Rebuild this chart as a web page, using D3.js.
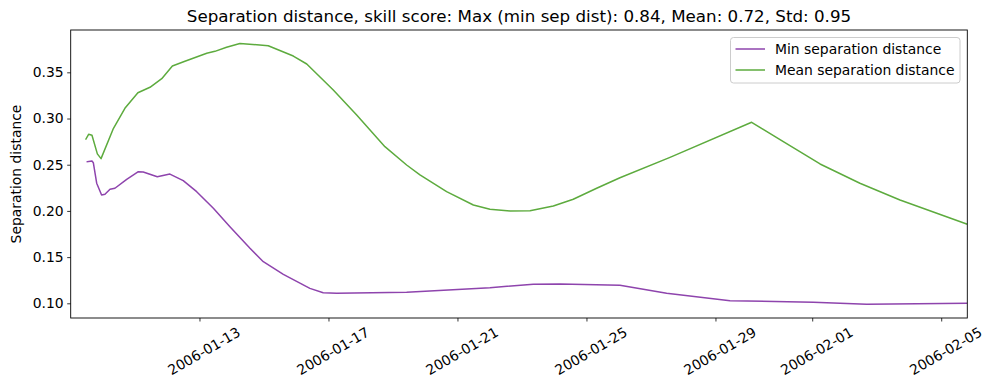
<!DOCTYPE html>
<html>
<head>
<meta charset="utf-8">
<script src="https://cdn.jsdelivr.net/npm/d3@7"></script>
<style>
  body { margin: 0; background: #fff; }
  svg { display: block; }
  text { font-family: "DejaVu Sans", sans-serif; fill: #000; }
</style>
</head>
<body>
<svg id="chart" width="989" height="390"></svg>
<script>
const titleText = "Separation distance, skill score: Max (min sep dist): 0.84, Mean: 0.72, Std: 0.95";
const yLabel = "Separation distance";
const seriesNames = ["Min separation distance", "Mean separation distance"];

const minDates = ["2006-01-09 12:30","2006-01-09 16:00","2006-01-09 17:00","2006-01-09 19:30","2006-01-09 23:10",
  "2006-01-10 01:40","2006-01-10 05:25","2006-01-10 09:05","2006-01-10 17:50","2006-01-11 02:30","2006-01-11 06:10",
  "2006-01-11 16:35","2006-01-12 02:00","2006-01-12 11:55","2006-01-12 21:55","2006-01-13 10:20","2006-01-13 22:40",
  "2006-01-14 13:35","2006-01-14 23:30","2006-01-15 14:25","2006-01-16 10:10","2006-01-16 20:05","2006-01-17 06:05",
  "2006-01-19 10:10","2006-01-22 00:10","2006-01-23 08:25","2006-01-24 04:25","2006-01-26 00:55","2006-01-27 11:40",
  "2006-01-29 10:50","2006-02-01 00:50","2006-02-02 16:30","2006-02-05 18:55"];
const minValues = [0.2532,0.2540,0.2522,0.2300,0.2172,
  0.2180,0.2234,0.2245,0.2342,0.2424,0.2421,
  0.2370,0.2399,0.2327,0.2208,0.2028,0.1829,
  0.1595,0.1450,0.1314,0.1162,0.1115,0.1108,
  0.1119,0.1169,0.1206,0.1209,0.1195,0.1108,
  0.1028,0.1011,0.0989,0.1000];

const meanDates = ["2006-01-09 11:30","2006-01-09 13:30","2006-01-09 16:00","2006-01-09 20:00","2006-01-09 22:45",
  "2006-01-10 08:00","2006-01-10 16:30","2006-01-11 02:10","2006-01-11 11:10","2006-01-11 19:55","2006-01-12 03:50",
  "2006-01-12 13:10","2006-01-13 05:25","2006-01-13 11:30","2006-01-13 20:10","2006-01-14 06:05","2006-01-15 03:10",
  "2006-01-15 21:50","2006-01-16 07:50","2006-01-17 03:35","2006-01-17 21:00","2006-01-18 18:00","2006-01-19 10:10",
  "2006-01-19 20:05","2006-01-20 15:55","2006-01-21 11:50","2006-01-22 00:10","2006-01-22 15:05","2006-01-23 06:00",
  "2006-01-23 23:20","2006-01-24 14:10","2006-01-25 07:35","2006-01-26 00:55","2006-01-27 14:10","2006-01-30 02:55",
  "2006-01-31 02:30","2006-02-01 05:50","2006-02-02 11:30","2006-02-03 17:20","2006-02-05 18:55"];
const meanValues = [0.2778,0.2829,0.2818,0.2617,0.2566,
  0.2894,0.3110,0.3279,0.3338,0.3431,0.3568,
  0.3619,0.3706,0.3727,0.3771,0.3812,0.3788,
  0.3676,0.3590,0.3308,0.3038,0.2695,0.2497,
  0.2389,0.2208,0.2064,0.2017,0.1999,0.2002,
  0.2053,0.2126,0.2245,0.2359,0.2580,0.2959,
  0.2749,0.2508,0.2299,0.2118,0.1858];

const xTickLabels = ["2006-01-13","2006-01-17","2006-01-21","2006-01-25","2006-01-29","2006-02-01","2006-02-05"];
const yTickLabels = ["0.10","0.15","0.20","0.25","0.30","0.35"];
const xDomain = ["2006-01-09 00:10","2006-02-05 19:25"];
const yDomain = [0.0841, 0.3958];

const colors = ["#8e44ad", "#5dab3e"];

const parse = d3.timeParse("%Y-%m-%d %H:%M");
const parseDay = d3.timeParse("%Y-%m-%d");

const svg = d3.select("#chart");
const L = 70.7, R = 967.3, T = 30, B = 318;

const x = d3.scaleTime().domain(xDomain.map(parse)).range([L, R]);
const y = d3.scaleLinear().domain(yDomain).range([B, T]);

const series = [
  { name: seriesNames[0], color: colors[0], data: minDates.map((d,i)=>({d: parse(d), v: minValues[i]})) },
  { name: seriesNames[1], color: colors[1], data: meanDates.map((d,i)=>({d: parse(d), v: meanValues[i]})) }
];

// clip
svg.append("defs").append("clipPath").attr("id","clip")
  .append("rect").attr("x", L).attr("y", T).attr("width", R-L).attr("height", B-T);

const line = d3.line().x(p => x(p.d)).y(p => y(p.v));
series.forEach(s => {
  svg.append("path").datum(s.data)
    .attr("clip-path","url(#clip)")
    .attr("fill","none").attr("stroke", s.color).attr("stroke-width", 1.5)
    .attr("stroke-linejoin","round").attr("stroke-linecap","square")
    .attr("d", line);
});

// y axis
const yAxis = d3.axisLeft(y).tickValues(yTickLabels.map(Number)).tickFormat(d3.format(".2f")).tickSize(3.5).tickPadding(3.5);
const gy = svg.append("g").attr("transform", `translate(${L},0)`).call(yAxis);
gy.select(".domain").remove();
gy.selectAll(".tick line").attr("stroke","#000").attr("stroke-width",0.8);
gy.selectAll(".tick text").attr("font-size","13.9px").attr("font-family","DejaVu Sans").attr("fill","#000");

// x axis
const xTicks = xTickLabels.map(parseDay);
const xAxis = d3.axisBottom(x).tickValues(xTicks).tickFormat(d3.timeFormat("%Y-%m-%d")).tickSize(3.5).tickPadding(3.5);
const gx = svg.append("g").attr("transform", `translate(0,${B})`).call(xAxis);
gx.select(".domain").remove();
gx.selectAll(".tick line").attr("stroke","#000").attr("stroke-width",0.8);
gx.selectAll(".tick text")
  .attr("font-size","13.9px").attr("font-family","DejaVu Sans").attr("fill","#000")
  .attr("text-anchor","middle").attr("dominant-baseline","central")
  .attr("y", null).attr("dy", null)
  .attr("transform", "translate(4,33) rotate(-30)");

// frame
svg.append("rect").attr("x", L).attr("y", T).attr("width", R-L).attr("height", B-T)
  .attr("fill","none").attr("stroke","#000").attr("stroke-width",0.9);

// title
svg.append("text").attr("x", (L+R)/2).attr("y", 21.5).attr("text-anchor","middle")
  .attr("font-size","16.7px").text(titleText);

// y label
svg.append("text").attr("transform", `translate(21,${(T+B)/2}) rotate(-90)`)
  .attr("text-anchor","middle").attr("font-size","13.9px").text(yLabel);

// legend
const lg = svg.append("g");
lg.append("rect").attr("x", 730.5).attr("y", 37.5).attr("width", 229.5).attr("height", 45.5)
  .attr("rx", 3).attr("fill","#fff").attr("fill-opacity",0.8).attr("stroke","#cccccc").attr("stroke-width",1);
series.forEach((s,i) => {
  const yy = 49 + i*21;
  lg.append("line").attr("x1", 735.5).attr("x2", 765).attr("y1", yy).attr("y2", yy)
    .attr("stroke", s.color).attr("stroke-width", 1.5);
  lg.append("text").attr("x", 775).attr("y", yy).attr("dy","0.36em").attr("font-size","13.9px").text(s.name);
});
</script>
</body>
</html>
